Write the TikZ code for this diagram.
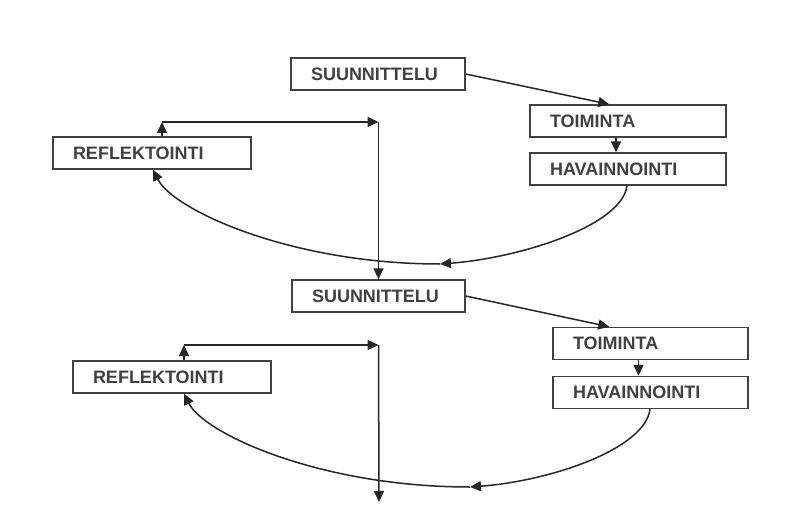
\documentclass[tikz,border=0pt]{standalone}
\usepackage{fontspec}
\setmainfont{Liberation Sans}
\usetikzlibrary{arrows.meta}

\begin{document}
\begin{tikzpicture}[x=1pt,y=-1pt,
    box/.style={draw=black!75, line width=1.4pt, minimum height=32pt,
      text width=#1, inner xsep=20pt, align=left, text=black!75,
      font=\fontsize{18}{20}\selectfont\bfseries},
    link/.style={draw=black!85, line width=1.5pt,
      -{Triangle[length=11pt,width=10pt]}}]

  \useasboundingbox (0,0) rectangle (803,524);

  % round 1
  \node[box=134pt] (suunA) at (378,74) {SUUNNITTELU};
  \node[box=156pt] (toimA) at (628,121) {TOIMINTA};
  \node[box=156pt] (havA) at (628,169) {HAVAINNOINTI};
  \node[box=158pt] (reflA) at (152,153) {REFLEKTOINTI};
  \path (440,264) coordinate (mA);
  \path (162,122) coordinate (upA);

  % round 2
  \node[box=133pt] (suunB) at (378.5,296) {SUUNNITTELU};
  \node[box=155pt] (toimB) at (650.5,343.5) {TOIMINTA};
  \node[box=155pt] (havB) at (650.5,392.5) {HAVAINNOINTI};
  \node[box=158pt] (reflB) at (172,377) {REFLEKTOINTI};
  \path (470,487) coordinate (mB);
  \path (184,345) coordinate (upB);
  \path (suunB.north |- upA) coordinate (rtA);
  \path (suunB.north |- upB) coordinate (rtB);
  \path (379,502) coordinate (tail);

  % cycle 1
  \draw[link] (suunA.east) -- ([xshift=80pt]toimA.north west);
  \draw[link] ([xshift=-12pt]toimA.south) -- ([xshift=-12pt]havA.north);
  \draw[link] ([xshift=-1pt]havA.south) .. controls +(-5,40) and +(80,-6) .. (mA);
  \draw[link] (mA) .. controls +(-150,0) and +(20,40) .. ([xshift=1pt]reflA.south);
  \draw[link] ([xshift=10pt]reflA.north) -- (upA);
  \draw[link] (upA) -- (rtA);
  \draw[link] (rtA) -- (suunB.north);

  % cycle 2
  \draw[link] (suunB.east) -- ([xshift=57pt]toimB.north west);
  \draw[link] ([xshift=-12pt]toimB.south) -- ([xshift=-12pt]havB.north);
  \draw[link] ([xshift=-0.5pt]havB.south) .. controls +(-5,40) and +(80,-6) .. (mB);
  \draw[link] (mB) .. controls +(-150,0) and +(20,40) .. ([xshift=12pt]reflB.south);
  \draw[link] ([xshift=12pt]reflB.north) -- (upB);
  \draw[link] (upB) -- (rtB);
  \draw[link] (rtB) -- (tail);

\end{tikzpicture}
\end{document}
